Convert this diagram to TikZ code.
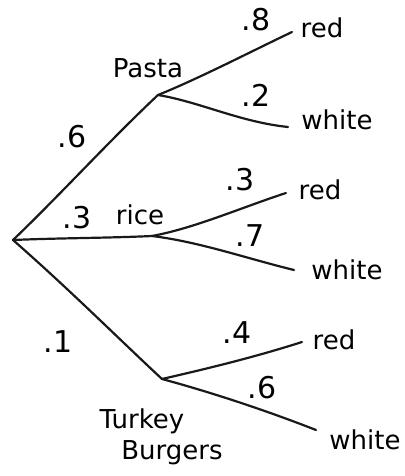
\documentclass[tikz,border=0pt]{standalone}
\usepackage{fontspec}
\setmainfont{DejaVu Sans}
\begin{document}
\begin{tikzpicture}[x=1pt,y=-1pt,
  br/.style={line width=2.2pt,line cap=round,line join=round,black!90},
  lbl/.style={font=\fontsize{26}{28}\selectfont,inner sep=0pt},
  prob/.style={font=\fontsize{30}{32}\selectfont,inner sep=0pt}]
\useasboundingbox (0,0) rectangle (404,476);
% branch points
\coordinate (root) at (13,240);
\coordinate (pasta) at (158,95);
\coordinate (rice) at (152,236);
\coordinate (turkey) at (162,379);
\coordinate (pr) at (292,32);
\coordinate (pw) at (288,127);
\coordinate (rr) at (286,193);
\coordinate (rw) at (294,270);
\coordinate (tr) at (302,342);
\coordinate (tw) at (316,430);
% branches
\draw[br] (root) .. controls (60,195) and (110,140) .. (pasta);
\draw[br] (root) .. controls (60,238) and (110,238) .. (rice);
\draw[br] (root) .. controls (70,290) and (120,340) .. (turkey);
\draw[br] (pasta) .. controls (200,78) and (250,52) .. (pr);
\draw[br] (pasta) .. controls (200,102) and (240,122) .. (pw);
\draw[br] (rice) .. controls (195,228) and (240,208) .. (rr);
\draw[br] (rice) .. controls (200,242) and (245,258) .. (rw);
\draw[br] (turkey) .. controls (210,368) and (255,357) .. (tr);
\draw[br] (turkey) .. controls (210,392) and (265,410) .. (tw);
% labels
\node[lbl] (lpasta) at (148,68) {Pasta};
\node[lbl] (lrice) at (140,215) {rice};
\node[lbl] (lturkey) at (142,421) {Turkey};
\node[lbl] (lburgers) at (172,453) {Burgers};
\node[lbl] (r1) at (322,28) {red};
\node[lbl] (w1) at (337,120) {white};
\node[lbl] (r2) at (320,190) {red};
\node[lbl] (w2) at (347,270) {white};
\node[lbl] (r3) at (334,340) {red};
\node[lbl] (w3) at (365,440) {white};
\node[prob] (p8) at (256,20) {.8};
\node[prob] (p2) at (256,95) {.2};
\node[prob] (p6) at (72,137) {.6};
\node[prob] (p3a) at (77,218) {.3};
\node[prob] (p3b) at (240,180) {.3};
\node[prob] (p7) at (250,236) {.7};
\node[prob] (p1) at (58,342) {.1};
\node[prob] (p4) at (237,333) {.4};
\node[prob] (p6b) at (262,388) {.6};
\end{tikzpicture}
\end{document}
